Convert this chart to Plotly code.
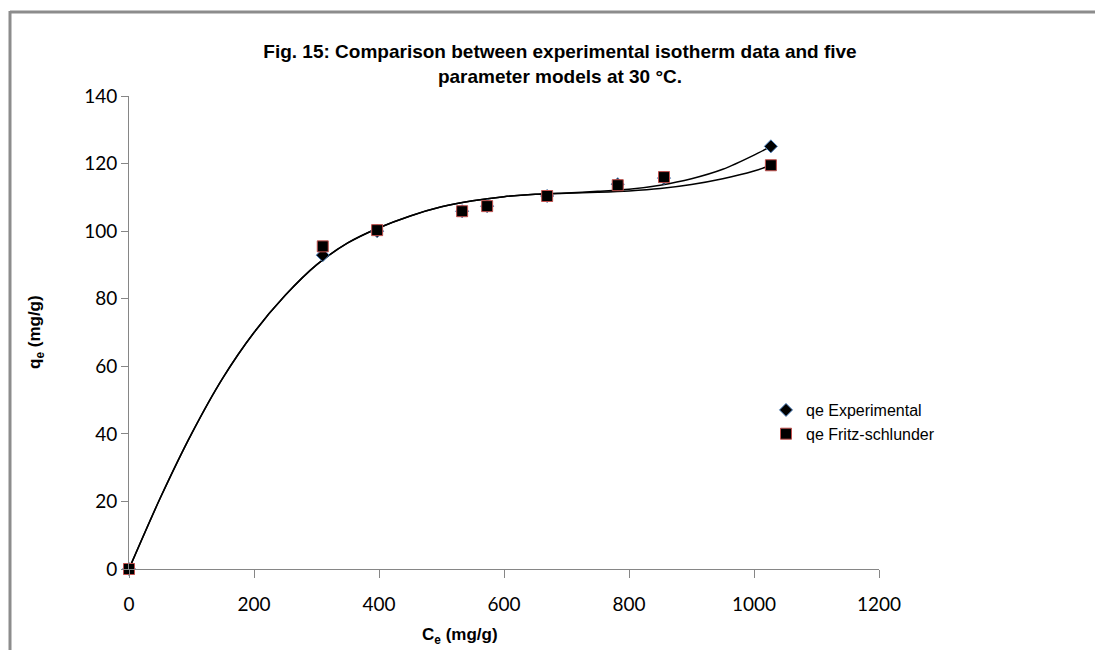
import plotly.graph_objects as go

# Experimental isotherm data
ce_exp = [0, 310, 397, 533, 573, 669, 782, 856, 1027]
qe_exp = [0, 92.9, 100.0, 105.9, 107.4, 110.4, 113.9, 115.7, 125.1]

# Fritz-Schlunder model values
ce_fs = [0, 310, 397, 533, 573, 669, 782, 856, 1027]
qe_fs = [0, 95.5, 100.3, 105.9, 107.4, 110.4, 113.6, 116.0, 119.5]

# Trend curves
curve_exp_x = [0, 50, 100, 150, 200, 250, 300, 350, 400, 450, 500, 550, 600, 650, 700, 750, 800, 850, 900, 950, 1000, 1027]
curve_exp_y = [0, 21, 40, 56.5, 70, 81, 90, 96.5, 101, 104.5, 107.2, 109, 110.2, 110.9, 111.3, 111.8, 112.4, 113.6, 115.5, 118.3, 122.5, 125.1]
curve_fs_x = [0, 50, 100, 150, 200, 250, 300, 350, 400, 450, 500, 550, 600, 650, 700, 750, 800, 850, 900, 950, 1000, 1027]
curve_fs_y = [0, 21, 40, 56.5, 70, 81, 90, 96.5, 101, 104.5, 107.2, 109, 110.2, 110.9, 111.2, 111.5, 111.9, 112.6, 113.8, 115.5, 117.8, 119.5]

x_ticks = [0, 200, 400, 600, 800, 1000, 1200]
y_ticks = [0, 20, 40, 60, 80, 100, 120, 140]

fig = go.Figure()

fig.add_trace(go.Scatter(x=curve_exp_x, y=curve_exp_y, mode="lines",
                         line=dict(color="#000000", width=1.5, shape="spline", smoothing=0.8),
                         showlegend=False, hoverinfo="skip"))
fig.add_trace(go.Scatter(x=curve_fs_x, y=curve_fs_y, mode="lines",
                         line=dict(color="#000000", width=1.5, shape="spline", smoothing=0.8),
                         showlegend=False, hoverinfo="skip"))

fig.add_trace(go.Scatter(x=ce_exp, y=qe_exp, mode="markers", name="qe Experimental",
                         cliponaxis=False,
                         marker=dict(symbol="diamond", size=10, color="#000000",
                                     line=dict(color="#4A7EBB", width=1))))
fig.add_trace(go.Scatter(x=ce_fs, y=qe_fs, mode="markers", name="qe Fritz-schlunder",
                         cliponaxis=False,
                         marker=dict(symbol="square", size=11, color="#000000",
                                     line=dict(color="#C0504D", width=1))))

L, R, T, B = 129, 879, 96, 569
W, H = 1095, 650
pw, ph = R - L, B - T

def px(xp):
    return (xp - L) / pw

def py(yp):
    return (B - yp) / ph

frame = "#8C8C8C"
fig.add_shape(type="line", xref="paper", yref="paper",
              x0=px(10), x1=px(W + 5), y0=py(12), y1=py(12),
              line=dict(color=frame, width=3))
fig.add_shape(type="line", xref="paper", yref="paper",
              x0=px(10), x1=px(10), y0=py(11), y1=py(H + 5),
              line=dict(color=frame, width=3))

title_font = "Liberation Sans, Arial"
fig.add_annotation(text="<b>C<sub>e</sub> (mg/g)</b>", xref="paper", yref="paper",
                   x=px(460), y=py(636), xanchor="center", yanchor="middle",
                   showarrow=False, font=dict(family=title_font, size=17, color="#000000"))
fig.add_annotation(text="<b>q<sub>e</sub> (mg/g)</b>", xref="paper", yref="paper",
                   x=px(36), y=py(332), xanchor="center", yanchor="middle", textangle=-90,
                   showarrow=False, font=dict(family=title_font, size=17, color="#000000"))

axis_gray = "#868686"
fig.update_layout(
    width=W, height=H,
    margin=dict(l=L, r=W - R, t=T, b=H - B),
    paper_bgcolor="white", plot_bgcolor="white",
    title=dict(text="<b>Fig. 15: Comparison between experimental isotherm data and five<br>parameter models at 30 °C.</b>",
               x=560 / W, xanchor="center", y=1 - 58 / H, yanchor="top",
               font=dict(family=title_font, size=19, color="#000000")),
    xaxis=dict(range=[0, 1200], tickvals=x_ticks, ticks="outside", ticklen=8,
               tickcolor=axis_gray, showline=True, linecolor=axis_gray, linewidth=1,
               showgrid=False, zeroline=False, ticklabelstandoff=10,
               tickfont=dict(family="Lato, Carlito, Calibri", size=19, color="#000000")),
    yaxis=dict(range=[0, 140], tickvals=y_ticks, ticks="outside", ticklen=7,
               tickcolor=axis_gray, showline=True, linecolor=axis_gray, linewidth=1,
               showgrid=False, zeroline=False,
               tickfont=dict(family="Lato, Carlito, Calibri", size=19, color="#000000")),
    legend=dict(x=px(766), y=py(393), xanchor="left", yanchor="top",
                font=dict(family=title_font, size=16, color="#000000"),
                bgcolor="rgba(0,0,0,0)", itemwidth=30, tracegroupgap=0),
)

fig.write_html("out.html")
